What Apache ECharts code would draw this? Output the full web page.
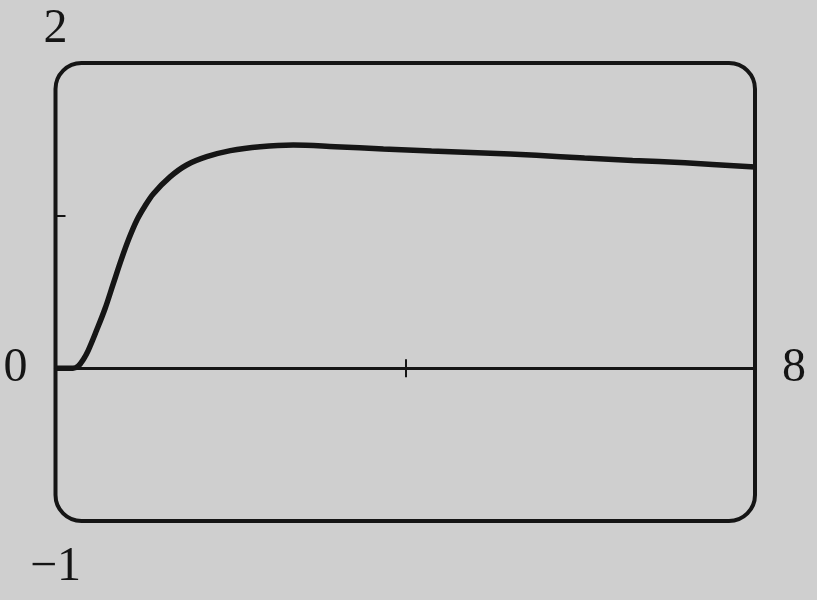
<!DOCTYPE html>
<html><head><meta charset="utf-8">
<script src="https://cdn.jsdelivr.net/npm/echarts@6/dist/echarts.min.js"></script>
<style>html,body{margin:0;padding:0;background:#cfcfcf;}#c{width:817px;height:600px;}</style>
</head><body><div id="c"></div>
<script>
var xs = [0, 0.2, 0.26, 0.32, 0.375, 0.47, 0.566, 0.661, 0.757, 0.84, 0.93, 1.02, 1.12, 1.31, 1.5, 1.73, 2.0, 2.34, 2.72, 3.2, 3.75, 4.3, 4.9, 5.5, 6.05, 6.6, 7.2, 8];
var ys = [0, 0, 0.015, 0.06, 0.118, 0.249, 0.39, 0.555, 0.72, 0.85, 0.97, 1.06, 1.144, 1.254, 1.332, 1.386, 1.426, 1.452, 1.463, 1.452, 1.437, 1.424, 1.411, 1.395, 1.378, 1.362, 1.346, 1.318];
var xMin = 0, xMax = 8, yMin = -1, yMax = 2;
var xTickValues = [4], yTickValues = [1];
var labelTop = "2", labelBottom = "\u22121", labelLeft = "0", labelRight = "8";

var ink = '#151515';
var font = {fontFamily: 'Liberation Serif', fontSize: 48, color: ink};
var pts = xs.map(function(x, i){ return [x, ys[i]]; });
var chart = echarts.init(document.getElementById('c'));
var hiddenLabel = {show: false};
chart.setOption({
  backgroundColor: '#cfcfcf',
  animation: false,
  grid: {left: 55.5, right: 62, top: 63, bottom: 79},
  xAxis: [
    {type: 'value', min: xMin, max: xMax, position: 'bottom',
     axisLine: {show: true, onZero: true, lineStyle: {color: ink, width: 3}},
     axisTick: {show: true, customValues: xTickValues, length: 9, lineStyle: {color: ink, width: 2}},
     axisLabel: hiddenLabel, splitLine: {show: false},
     name: labelRight, nameLocation: 'end', nameGap: 27, nameTextStyle: font},
    {type: 'value', min: xMin, max: xMax, position: 'top',
     axisLine: {show: false, onZero: true},
     axisTick: {show: true, customValues: xTickValues, length: 9, lineStyle: {color: ink, width: 2}},
     axisLabel: hiddenLabel, splitLine: {show: false},
     name: labelLeft, nameLocation: 'start', nameGap: 28, nameTextStyle: font}
  ],
  yAxis: [
    {type: 'value', min: yMin, max: yMax, interval: 1, position: 'left',
     axisLine: {show: false},
     axisTick: {show: true, inside: true, customValues: yTickValues, length: 10, lineStyle: {color: ink, width: 2}},
     axisLabel: hiddenLabel, splitLine: {show: false},
     name: labelTop, nameLocation: 'end', nameGap: 10, nameTextStyle: font},
    {type: 'value', min: yMin, max: yMax, interval: 1, position: 'left',
     axisLine: {show: false}, axisTick: {show: false},
     axisLabel: hiddenLabel, splitLine: {show: false},
     name: labelBottom, nameLocation: 'start', nameGap: 22, nameTextStyle: font}
  ],
  series: [{
    type: 'line', data: pts, smooth: 0.35, showSymbol: false,
    lineStyle: {color: ink, width: 5.5}, z: 5
  }]
});
var p0 = chart.convertToPixel({gridIndex: 0}, [xMin, yMax]);
var p1 = chart.convertToPixel({gridIndex: 0}, [xMax, yMin]);
chart.setOption({graphic: [{
  type: 'rect', z: 10,
  shape: {x: p0[0], y: p0[1], width: p1[0] - p0[0], height: p1[1] - p0[1], r: 26},
  style: {fill: null, stroke: ink, lineWidth: 4}
}]});
</script></body></html>
